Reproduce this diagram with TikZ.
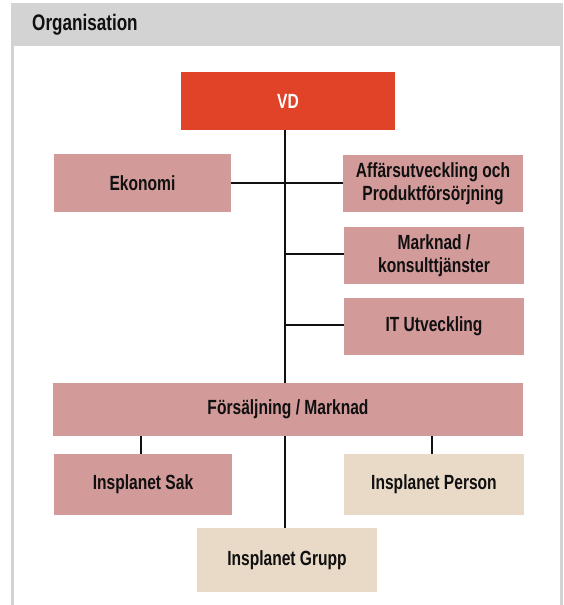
\documentclass[tikz,border=0pt]{standalone}
\usepackage{fontspec}
\setmainfont[FakeStretch=0.76]{Liberation Sans}
\usetikzlibrary{calc}
\definecolor{vdred}{HTML}{E04328}
\definecolor{boxpink}{HTML}{D39A9A}
\definecolor{boxbeige}{HTML}{E9DAC8}
\definecolor{framegrey}{HTML}{D2D3D2}
\definecolor{txt}{HTML}{101010}
\begin{document}
\begin{tikzpicture}[x=1pt,y=-1pt,
  orgbox/.style={fill=boxpink, draw=none, inner sep=0pt, align=center,
    font=\fontsize{20.5}{22.5}\selectfont\bfseries, text=txt},
  beigebox/.style={orgbox, fill=boxbeige},
  vdbox/.style={orgbox, fill=vdred, text=white},
  link/.style={draw=txt, line width=2.6pt}]
\fill[white] (0,0) rectangle (563,605);
\useasboundingbox (0,0) rectangle (563,605);
% frame
\fill[framegrey] (11,3) rectangle (563,46);
\fill[framegrey] (11,46) rectangle (14,605);
\fill[framegrey] (560,46) rectangle (563,605);
\node[anchor=west, font=\fontsize{22.5}{24}\selectfont\bfseries, text=txt, inner sep=0pt] (title) at (32,25) {Organisation};
% spine coordinate
\coordinate (spine) at (285,0);
% links (drawn first, behind boxes)
\coordinate (vdbot) at (285,130);
\coordinate (fortop) at (285,383);
\coordinate (forbot) at (285,436);
\coordinate (grtop) at (285,528);
\draw[link] (vdbot) -- (fortop);
\draw[link] (forbot) -- (grtop);
% nodes
\node[vdbox, minimum width=214pt, minimum height=58pt] (VD) at (288,101) {VD};
\node[orgbox, minimum width=177pt, minimum height=58pt] (Ekonomi) at (142.5,183) {Ekonomi};
\node[orgbox, minimum width=180pt, minimum height=57pt] (Affars) at (433,183.5) {Affärsutveckling och\\Produktförsörjning};
\node[orgbox, minimum width=180pt, minimum height=57pt] (Marknad) at (434,255.5) {Marknad /\\konsulttjänster};
\node[orgbox, minimum width=180pt, minimum height=57pt] (IT) at (434,326.5) {IT Utveckling};
\node[orgbox, minimum width=470pt, minimum height=53pt] (Fors) at (288,409.5) {Försäljning / Marknad};
\node[orgbox, minimum width=178pt, minimum height=61pt] (Sak) at (143,484.5) {Insplanet Sak};
\node[beigebox, minimum width=180pt, minimum height=61pt] (Person) at (434,484.5) {Insplanet Person};
\node[beigebox, minimum width=180pt, minimum height=64pt] (Grupp) at (287,560) {Insplanet Grupp};
% branch links
\draw[link] (Ekonomi.east |- 0,183) -- (Affars.west |- 0,183);
\draw[link] (Marknad.west |- 0,254) -- (spine |- 0,254);
\draw[link] (IT.west |- 0,325) -- (spine |- 0,325);
\draw[link] ($(Fors.south -| Sak.north)+(-2,0)$) -- ($(Sak.north)+(-2,0)$);
\draw[link] ($(Fors.south -| Person.north)+(-2,0)$) -- ($(Person.north)+(-2,0)$);
\end{tikzpicture}
\end{document}
